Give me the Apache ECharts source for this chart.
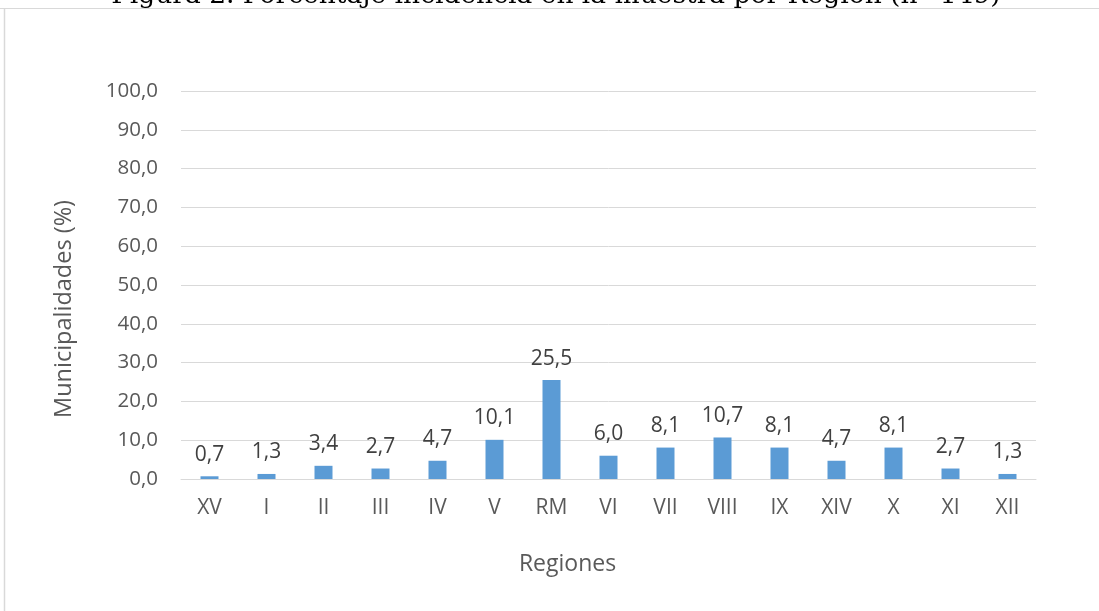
<!DOCTYPE html>
<html>
<head>
<meta charset="utf-8">
<script src="https://cdn.jsdelivr.net/npm/echarts@6/dist/echarts.min.js"></script>
<style>html,body{margin:0;padding:0;background:#fff;}#c{width:1099px;height:611px;}</style>
</head>
<body>
<div id="c"></div>
<script>
var titleText = 'Figura 2. Porcentaje incidencia en la muestra por Región (n=149)';
var categories = ['XV','I','II','III','IV','V','RM','VI','VII','VIII','IX','XIV','X','XI','XII'];
var values = [0.7,1.3,3.4,2.7,4.7,10.1,25.5,6.0,8.1,10.7,8.1,4.7,8.1,2.7,1.3];
var yMin = 0, yMax = 100, yStep = 10;

var chart = echarts.init(document.getElementById('c'), null, {renderer:'canvas'});
chart.setOption({
  animation:false,
  backgroundColor:'#fff',
  graphic:[
    {type:'text', x:556, y:10, style:{text:titleText, textAlign:'center', textVerticalAlign:'bottom',
      font:'normal 26.5px "DejaVu Serif", serif', fill:'#000'}},
    {type:'line', shape:{x1:0,y1:8.5,x2:1099,y2:8.5}, style:{stroke:'#D9D9D9', lineWidth:1}},
    {type:'line', shape:{x1:4.5,y1:8,x2:4.5,y2:611}, style:{stroke:'#D9D9D9', lineWidth:1.5}}
  ],
  grid:{left:181, right:63, top:91, bottom:132},
  xAxis:{
    type:'category', data:categories,
    name:'Regiones', nameLocation:'middle', nameGap:74,
    nameTextStyle:{fontFamily:'"Open Sans", sans-serif', fontSize:23, color:'#595959', padding:[0,82,0,0]},
    axisLine:{lineStyle:{color:'#D9D9D9', width:1}},
    axisTick:{show:false},
    axisLabel:{fontFamily:'"Open Sans", sans-serif', fontSize:21, color:'#595959', margin:19}
  },
  yAxis:{
    type:'value', min:yMin, max:yMax, interval:yStep,
    name:'Municipalidades (%)', nameLocation:'middle', nameGap:105, nameRotate:90,
    nameTextStyle:{fontFamily:'"Open Sans", sans-serif', fontSize:23.5, color:'#595959', padding:[0,48,0,0]},
    axisLine:{show:false}, axisTick:{show:false},
    splitLine:{lineStyle:{color:'#D9D9D9', width:1}},
    axisLabel:{fontFamily:'"Open Sans", sans-serif', fontSize:20.5, color:'#595959', margin:23,
      formatter:function(v){return v.toFixed(1).replace('.',',');}}
  },
  series:[{
    type:'bar', data:values, barWidth:18,
    itemStyle:{color:'#5B9BD5'},
    label:{show:true, position:'top', distance:11, fontFamily:'"Open Sans", sans-serif', fontSize:21, color:'#404040',
      formatter:function(p){return p.value.toFixed(1).replace('.',',');}}
  }]
});
</script>
</body>
</html>
